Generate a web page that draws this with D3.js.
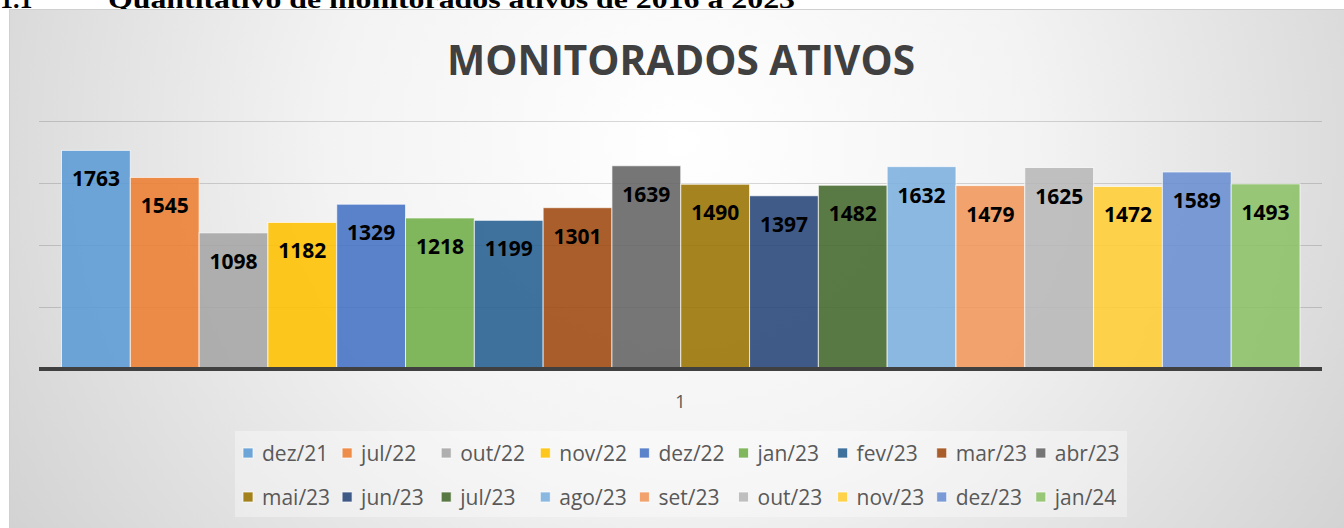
<!DOCTYPE html>
<html>
<head>
<meta charset="utf-8">
<script src="https://cdn.jsdelivr.net/npm/d3@7"></script>
<style>
  body { margin: 0; background: #fff; }
  svg { display: block; }
</style>
</head>
<body>
<script>
// Monitorados ativos, one value per month (single category "1")

var months = ['dez/21', 'jul/22', 'out/22', 'nov/22', 'dez/22', 'jan/23', 'fev/23', 'mar/23', 'abr/23',
              'mai/23', 'jun/23', 'jul/23', 'ago/23', 'set/23', 'out/23', 'nov/23', 'dez/23', 'jan/24'];
var values = [1763, 1545, 1098, 1182, 1329, 1218, 1199, 1301, 1639,
              1490, 1397, 1482, 1632, 1479, 1625, 1472, 1589, 1493];
var colors = ['#5B9BD5', '#ED7D31', '#A5A5A5', '#FFC000', '#4472C4', '#70AD47', '#255E91', '#9E480E', '#636363',
              '#997300', '#264478', '#43682B', '#7CAFDD', '#F1975A', '#B7B7B7', '#FFCD33', '#698ED0', '#8CC168'];
var categories = ['1'];
var yTicks = [0, 500, 1000, 1500, 2000];

var width = 1344,
    height = 528;

var svg = d3.select('body')
  .append('svg')
  .attr('width', width)
  .attr('height', height);

// background gradient like the Excel chart style
var defs = svg.append('defs');
var grad = defs.append('radialGradient')
  .attr('id', 'bg')
  .attr('cx', '50%').attr('cy', '25%')
  .attr('r', '75%')
  .attr('gradientTransform', 'translate(0.5,0.25) scale(1,2.4) translate(-0.5,-0.25)');
grad.append('stop').attr('offset', '0%').attr('stop-color', '#ffffff');
grad.append('stop').attr('offset', '35%').attr('stop-color', '#f3f3f3');
grad.append('stop').attr('offset', '100%').attr('stop-color', '#c2c2c2');

// document heading, cut at the top of the picture
svg.append('text')
  .attr('x', 0)
  .attr('y', 8)
  .style('font-family', '"Liberation Serif", "Times New Roman", serif')
  .style('font-weight', 'bold')
  .style('font-size', '26px')
  .attr('fill', '#000')
  .text('1.1');

svg.append('text')
  .attr('x', 108)
  .attr('y', 8)
  .attr('textLength', 687)
  .attr('lengthAdjust', 'spacingAndGlyphs')
  .style('font-family', '"Liberation Serif", "Times New Roman", serif')
  .style('font-weight', 'bold')
  .style('font-size', '26px')
  .attr('fill', '#000')
  .text('Quantitativo de monitorados ativos de 2016 a 2023');

// chart area
svg.append('rect')
  .attr('x', 9.5)
  .attr('y', 9.5)
  .attr('width', width)
  .attr('height', height)
  .attr('fill', 'url(#bg)')
  .attr('stroke', '#d0d0d0');

svg.append('text')
  .attr('x', 681)
  .attr('y', 75)
  .attr('text-anchor', 'middle')
  .attr('textLength', 468)
  .attr('lengthAdjust', 'spacingAndGlyphs')
  .style('font-family', '"Open Sans", sans-serif')
  .style('font-weight', 'bold')
  .style('font-size', '41px')
  .attr('fill', '#404040')
  .text('MONITORADOS ATIVOS');

// scales
var x0 = d3.scaleBand()
  .domain(categories)
  .range([39, 1322]);

var x1 = d3.scaleBand()
  .domain(months)
  .range([22.5, x0.bandwidth() - 22]);

var y = d3.scaleLinear()
  .domain([0, 2000])
  .range([369, 121]);

// gridlines
svg.append('g')
  .selectAll('line')
  .data(yTicks.slice(1))
  .enter().append('line')
  .attr('x1', 39)
  .attr('x2', 1322)
  .attr('y1', function(d) { return Math.round(y(d)) + 0.5; })
  .attr('y2', function(d) { return Math.round(y(d)) + 0.5; })
  .attr('stroke', 'rgba(0,0,0,0.15)')
  .attr('stroke-width', 1.2);

// bars
var group = svg.append('g')
  .attr('transform', 'translate(' + x0('1') + ',0)');

group.selectAll('rect')
  .data(values)
  .enter().append('rect')
  .attr('x', function(d, i) { return x1(months[i]); })
  .attr('y', function(d) { return y(d); })
  .attr('width', x1.bandwidth())
  .attr('height', function(d) { return y(0) - y(d); })
  .attr('fill', function(d, i) { return colors[i]; })
  .attr('fill-opacity', 0.88)
  .attr('stroke', 'rgba(255,255,255,0.7)')
  .attr('stroke-width', 1);

group.selectAll('text')
  .data(values)
  .enter().append('text')
  .attr('x', function(d, i) { return x1(months[i]) + x1.bandwidth() / 2; })
  .attr('y', function(d) { return y(d) + 36; })
  .attr('text-anchor', 'middle')
  .style('font-family', '"Open Sans", sans-serif')
  .style('font-weight', 'bold')
  .style('font-size', '21px')
  .attr('fill', '#000')
  .text(function(d) { return d; });

// baseline
svg.append('line')
  .attr('x1', 39)
  .attr('x2', 1322)
  .attr('y1', y(0))
  .attr('y2', y(0))
  .attr('stroke', '#404040')
  .attr('stroke-width', 4);

// category label
svg.append('text')
  .attr('x', x0('1') + x0.bandwidth() / 2)
  .attr('y', 408)
  .attr('text-anchor', 'middle')
  .style('font-family', '"Open Sans", sans-serif')
  .style('font-size', '18px')
  .attr('fill', '#595959')
  .text(categories[0]);

// legend
svg.append('rect')
  .attr('x', 235)
  .attr('y', 431)
  .attr('width', 892)
  .attr('height', 86)
  .attr('fill', 'rgba(255,255,255,0.35)');

var perRow = 9,
    colWidth = 99.1;

var legend = svg.append('g')
  .selectAll('g')
  .data(months)
  .enter().append('g')
  .attr('transform', function(d, i) {
    return 'translate(' + (243 + (i % perRow) * colWidth) + ',' + (453 + Math.floor(i / perRow) * 44) + ')';
  });

legend.append('rect')
  .attr('x', 0)
  .attr('y', -5)
  .attr('width', 10)
  .attr('height', 10)
  .attr('fill', function(d, i) { return colors[i]; })
  .attr('fill-opacity', 0.88)
  .attr('stroke', 'rgba(255,255,255,0.7)');

legend.append('text')
  .attr('x', 19)
  .attr('y', 7.5)
  .style('font-family', '"Open Sans", sans-serif')
  .style('font-size', '21px')
  .attr('fill', '#595959')
  .text(function(d) { return d; });
</script>
</body>
</html>
